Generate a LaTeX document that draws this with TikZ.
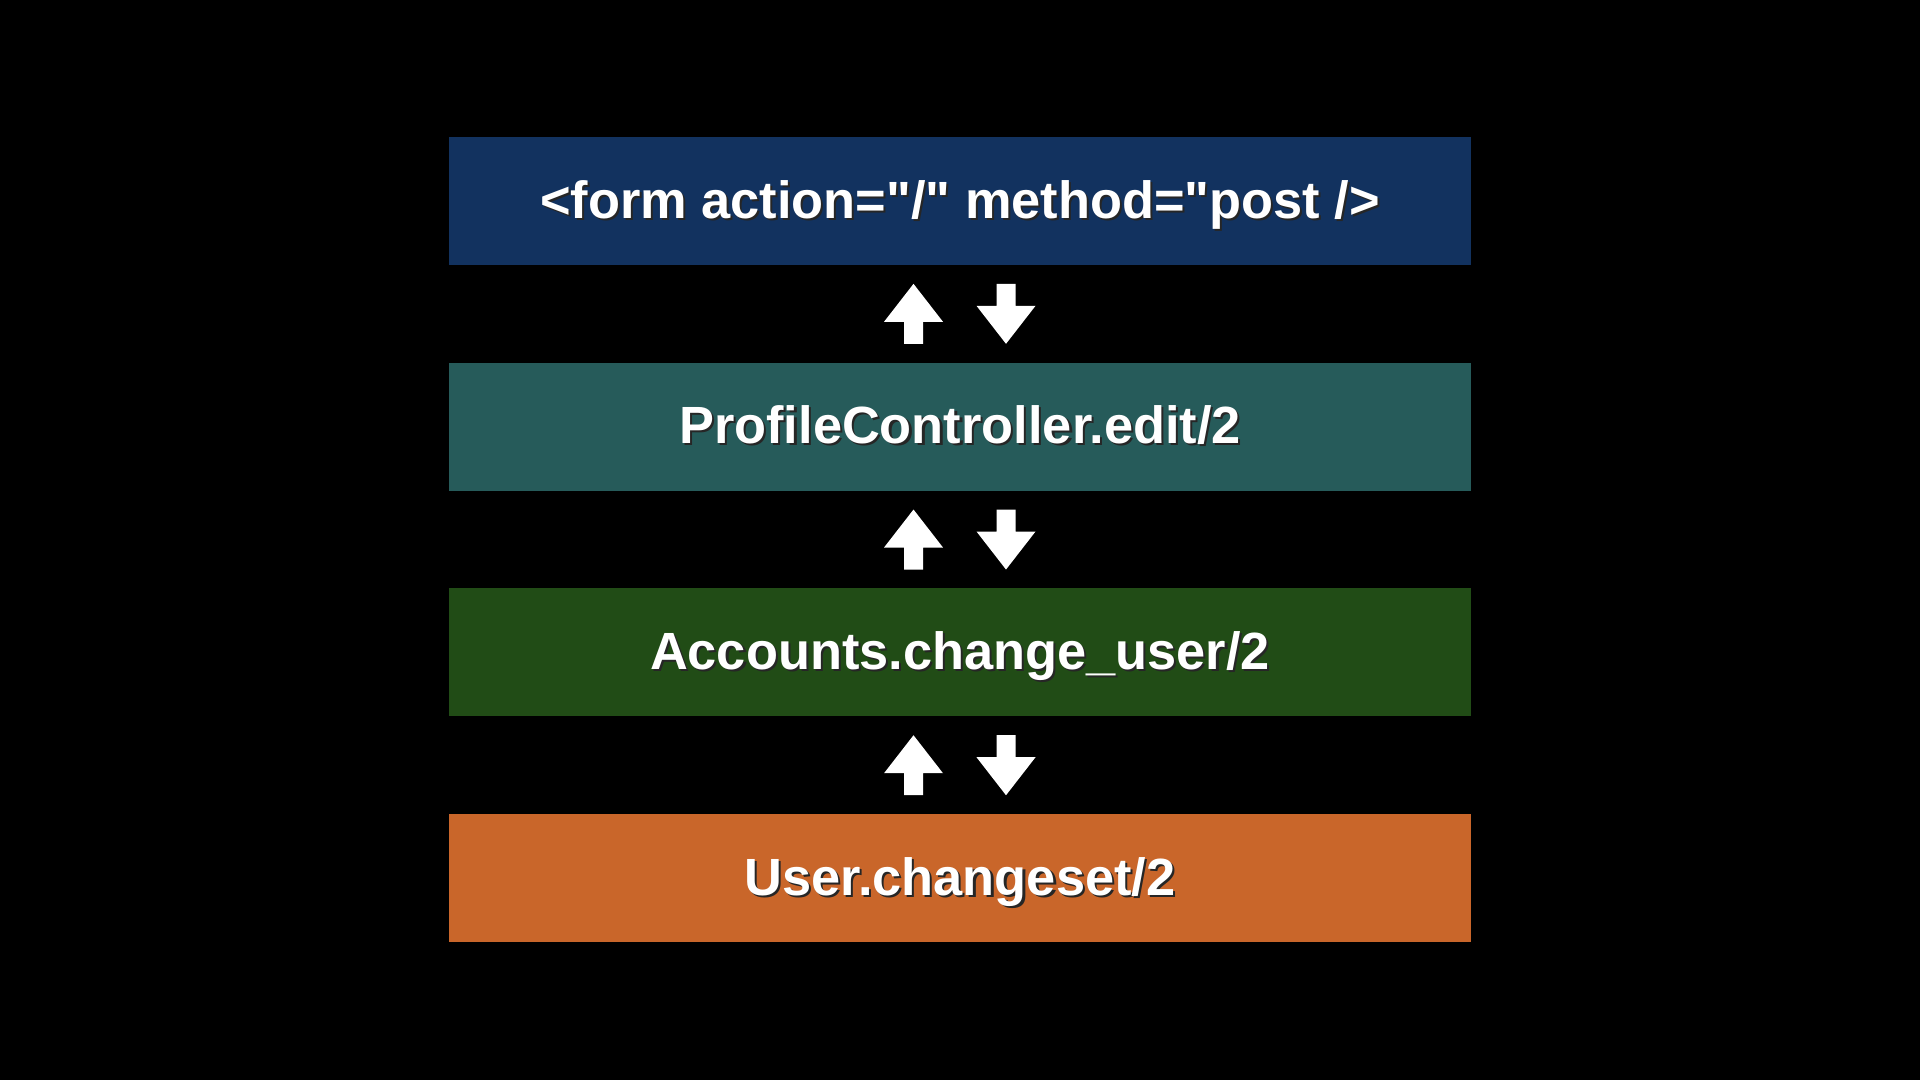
\documentclass[tikz,border=0pt]{standalone}
\usepackage{fontspec}
\setmainfont{Liberation Sans}[Ligatures=TeXOff]
\usetikzlibrary{positioning}

\definecolor{formblue}{HTML}{12325F}
\definecolor{ctrlteal}{HTML}{265B5A}
\definecolor{ctxgreen}{HTML}{214C16}
\definecolor{schemaorange}{HTML}{C9662A}

% white text with a small dark shadow below right
\newcommand{\shtext}[1]{\leavevmode\rlap{\hspace{0.6pt}\raisebox{-0.6pt}{\color{black!85}#1}}#1}

\tikzset{
  layer/.style={minimum width=10.22cm, minimum height=1.28cm, inner sep=0pt, outer sep=0pt,
    text height=9.7pt, text depth=0pt,
    text=white, font=\fontsize{14.9}{17}\selectfont\bfseries},
  flow/.style={fill=white}
}

\begin{document}
\begin{tikzpicture}
\fill[black] (0,0) rectangle (19.2,10.8);
\useasboundingbox (0,0) rectangle (19.2,10.8);

\node[layer, fill=formblue] (form) at (9.6,8.79) {\shtext{<form action="/" method="post />}};
\node[layer, fill=ctrlteal, below=0.977cm of form] (ctrl) {\shtext{ProfileController.edit/2}};
\node[layer, fill=ctxgreen, below=0.977cm of ctrl] (ctx) {\shtext{Accounts.change\_user/2}};
\node[layer, fill=schemaorange, below=0.977cm of ctx] (schema) {\shtext{User.changeset/2}};

\path (form.south) -- (ctrl.north) coordinate[midway] (g1);
\path (ctrl.south) -- (ctx.north) coordinate[midway] (g2);
\path (ctx.south) -- (schema.north) coordinate[midway] (g3);

\foreach \g in {g1,g2,g3} {
  % up
  \fill[flow, shift={(\g)}, xshift=-0.465cm] (0,0.30) -- (0.295,-0.08) -- (0.095,-0.08) -- (0.095,-0.30)
    -- (-0.095,-0.30) -- (-0.095,-0.08) -- (-0.295,-0.08) -- cycle;
  % down
  \fill[flow, shift={(\g)}, xshift=0.46cm] (0,-0.30) -- (0.295,0.08) -- (0.095,0.08) -- (0.095,0.30)
    -- (-0.095,0.30) -- (-0.095,0.08) -- (-0.295,0.08) -- cycle;
}
\end{tikzpicture}
\end{document}
